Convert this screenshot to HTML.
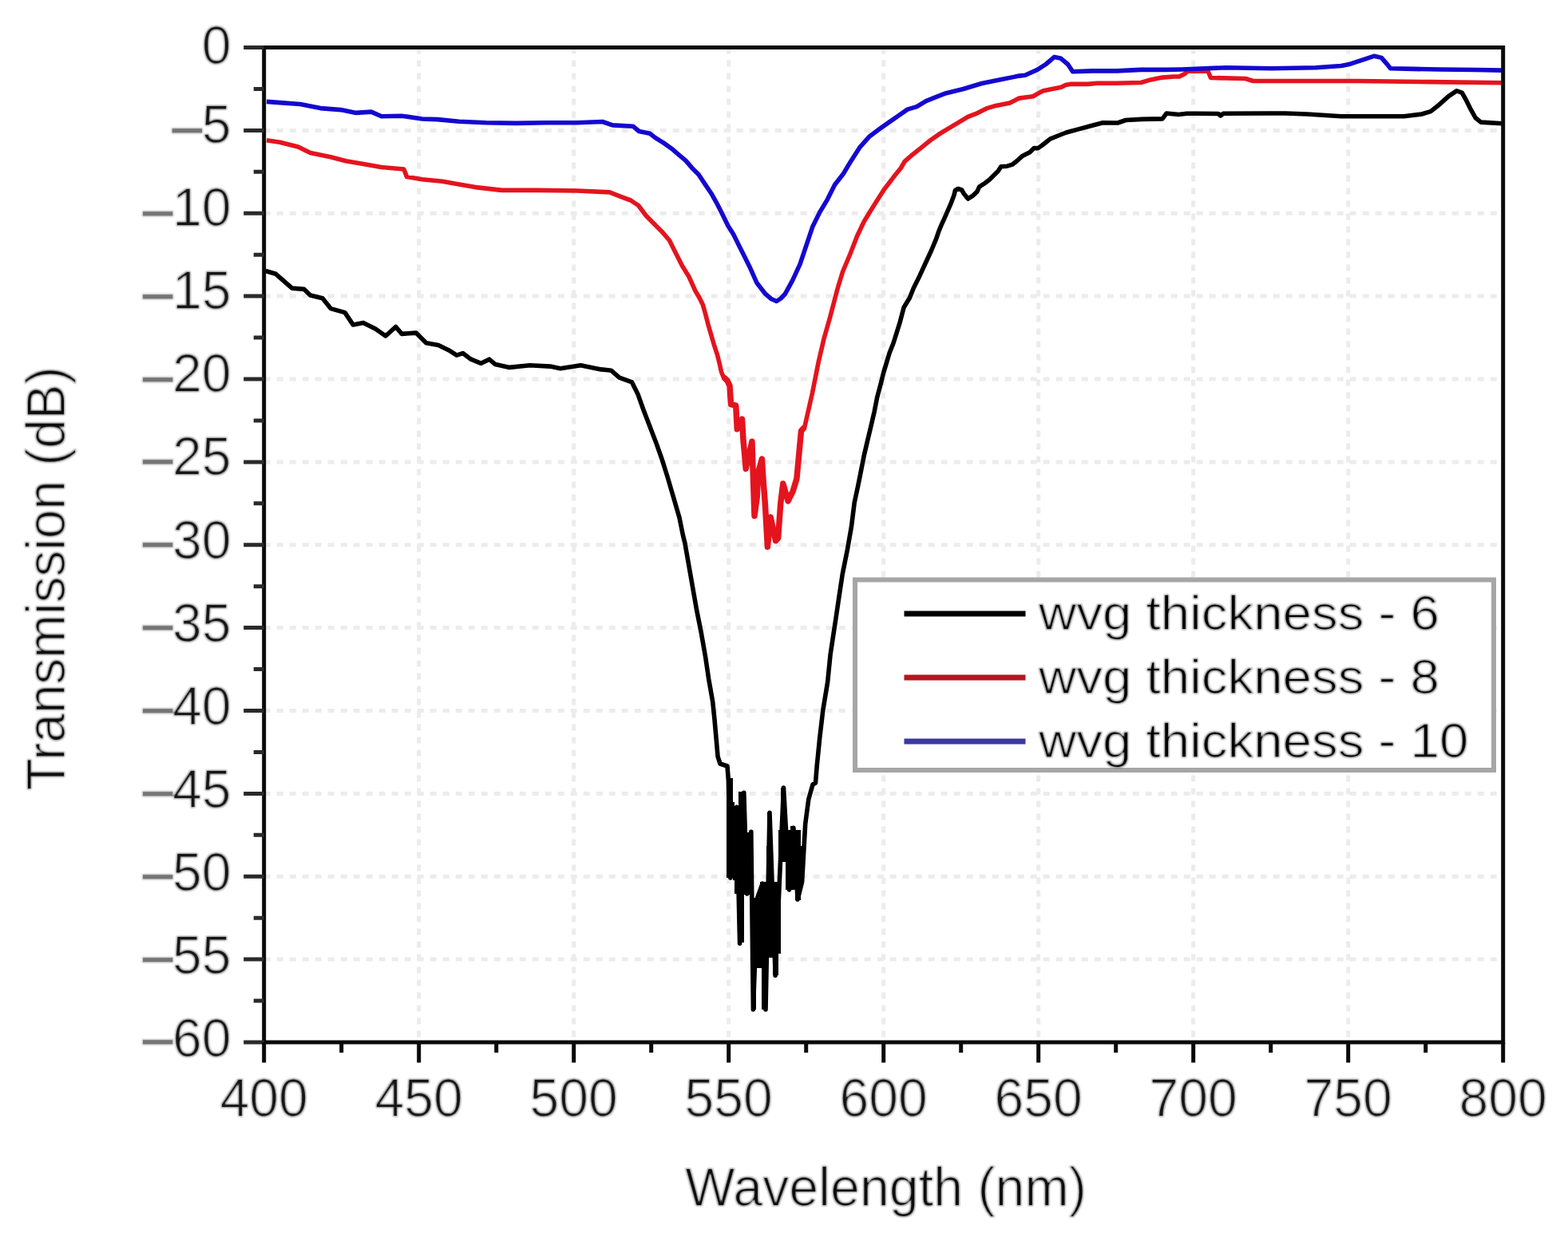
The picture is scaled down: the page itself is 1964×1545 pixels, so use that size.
<!DOCTYPE html>
<html><head><meta charset="utf-8"><title>Transmission vs Wavelength</title>
<style>html,body{margin:0;padding:0;background:#fff;}body{width:1964px;height:1545px;overflow:hidden;}svg{display:block;}</style>
</head><body>
<svg width="1964" height="1545" viewBox="0 0 1964 1545"><rect x="0" y="0" width="1964" height="1545" fill="#fff"/><defs><filter id="thin" x="-5%" y="-20%" width="110%" height="140%"><feMorphology in="SourceGraphic" operator="erode" radius="1" result="e"/><feGaussianBlur in="SourceGraphic" stdDeviation="1.3" result="b"/><feComponentTransfer in="b" result="h"><feFuncA type="linear" slope="0.55"/></feComponentTransfer><feMerge><feMergeNode in="h"/><feMergeNode in="e"/></feMerge></filter></defs><path d="M524.7,59.5 V1306.0 M718.7,59.5 V1306.0 M912.7,59.5 V1306.0 M1106.7,59.5 V1306.0 M1300.7,59.5 V1306.0 M1494.7,59.5 V1306.0 M1688.7,59.5 V1306.0 M330.7,163.4 H1882.7 M330.7,267.2 H1882.7 M330.7,371.1 H1882.7 M330.7,475.0 H1882.7 M330.7,578.9 H1882.7 M330.7,682.8 H1882.7 M330.7,786.6 H1882.7 M330.7,890.5 H1882.7 M330.7,994.4 H1882.7 M330.7,1098.2 H1882.7 M330.7,1202.1 H1882.7" stroke="#ececec" stroke-width="5" stroke-dasharray="8 8" fill="none"/><path d="M332.7,339.5 L345.5,343.3 L365.8,361.1 L381.0,362.4 L388.7,370.0 L404.0,373.8 L414.2,386.6 L432.0,391.6 L442.2,406.9 L455.0,404.4 L470.2,412.0 L483.0,421.0 L495.7,409.5 L503.3,418.4 L521.1,417.1 L533.8,429.8 L549.1,432.4 L561.9,438.7 L572.0,445.1 L579.7,442.6 L589.9,450.2 L602.6,455.3 L612.8,450.2 L620.4,456.6 L638.2,460.4 L663.7,457.8 L689.1,459.1 L701.9,461.7 L727.3,457.8 L752.8,462.9 L765.5,464.2 L775.7,473.1 L791.5,478.9 L798.9,493.8 L806.4,514.7 L813.8,534.0 L821.3,553.4 L828.7,574.2 L836.2,598.0 L843.6,623.3 L851.0,648.7 L855.5,671.0 L857.8,680.0 L862.8,708.5 L867.8,737.0 L872.8,765.4 L878.5,793.9 L883.5,822.4 L887.7,850.9 L892.7,879.3 L895.0,901.6 L899.1,948.2 L902.0,957.0 L911.0,960.0 L912.4,977.7 L915.0,1100.0 L922.7,1011.3 L926.6,1182.2 L931.8,993.2 L935.7,1120.0 L940.8,1042.4 L943.4,1265.0 L948.6,1125.2 L955.1,1107.1 L959.0,1265.0 L964.0,1018.3 L971.2,1222.3 L981.5,987.0 L988.7,1114.9 L993.9,1037.2 L999.1,1127.0 L1004.6,1105.0 L1008.7,1032.5 L1012.8,1001.4 L1018.0,983.0 L1021.5,981.0 L1023.2,960.0 L1026.7,925.0 L1030.8,890.0 L1036.6,855.0 L1040.1,820.0 L1046.4,778.7 L1050.8,748.9 L1055.3,719.1 L1061.3,689.3 L1066.5,659.6 L1070.2,629.8 L1072.3,620.0 L1074.8,608.4 L1078.5,589.9 L1082.1,571.5 L1086.4,553.0 L1090.8,534.6 L1095.1,516.1 L1098.7,497.7 L1103.0,481.7 L1106.7,466.9 L1110.4,454.6 L1114.1,442.3 L1119.0,430.0 L1127.2,403.8 L1132.1,385.3 L1139.5,373.0 L1144.4,360.7 L1151.8,345.9 L1159.1,330.0 L1166.5,314.0 L1172.7,299.2 L1175.8,290.0 L1178.9,282.4 L1182.8,273.9 L1186.7,265.0 L1191.0,255.2 L1194.9,244.8 L1196.5,238.5 L1200.0,236.5 L1204.6,238.0 L1207.2,242.5 L1212.4,249.0 L1218.8,245.1 L1224.0,239.9 L1226.6,234.1 L1233.7,229.5 L1239.5,225.0 L1244.7,219.8 L1249.9,214.7 L1253.8,208.8 L1261.6,208.2 L1268.0,206.2 L1274.5,201.0 L1281.0,195.2 L1290.0,190.7 L1295.2,185.5 L1300.0,185.8 L1305.1,182.3 L1310.2,178.2 L1315.3,174.1 L1325.5,170.0 L1335.6,166.0 L1350.9,161.9 L1366.2,157.8 L1381.5,153.7 L1400.0,154.0 L1410.2,150.5 L1430.5,149.4 L1456.0,148.9 L1458.6,145.4 L1461.1,142.0 L1476.4,143.5 L1486.6,142.3 L1500.0,142.3 L1526.0,142.5 L1529.0,145.0 L1532.0,142.3 L1590.0,142.0 L1610.0,142.0 L1636.8,143.0 L1680.0,145.8 L1758.4,145.8 L1780.8,143.0 L1792.0,139.6 L1803.2,130.7 L1814.4,120.6 L1824.5,113.9 L1831.2,116.1 L1836.8,126.2 L1842.4,137.4 L1848.0,147.5 L1854.8,153.1 L1881.6,154.7" stroke="#000" stroke-width="5.6" fill="none" stroke-linejoin="round"/><path d="M910,975 H918 V1100 H910 Z M918,1005 H920 V1103 H918 Z M920,1010 H925 V1120 H920 Z M925,992 H932 V1181 H925 Z M932,1000 H934 V1121 H932 Z M934,1043 H941 V1121 H934 Z M941,1125 H947 V1265 H941 Z M947,1125 H952 V1213 H947 Z M952,1105 H954 V1213 H952 Z M954,1105 H960 V1265 H954 Z M960,1060 H961 V1265 H960 Z M961,1018 H966 V1200 H961 Z M966,1060 H968 V1200 H966 Z M968,1105 H975 V1222 H968 Z M975,1040 H978 V1195 H975 Z M978,987 H984 V1080 H978 Z M984,1040 H990 V1115 H984 Z M990,1035 H996 V1115 H990 Z M996,1040 H1003 V1128 H996 Z M1003,1060 H1006 V1105 H1003 Z" fill="#000"/><path d="M333.9,175.7 L350.5,178.3 L373.4,184.0 L388.6,191.6 L414.1,196.7 L433.2,201.8 L452.3,205.0 L477.7,209.5 L505.8,212.0 L509.6,221.6 L528.7,224.7 L554.1,227.3 L575.0,231.1 L595.5,234.6 L628.6,238.4 L671.8,238.4 L722.7,239.0 L763.5,240.9 L780.0,247.3 L790.0,251.0 L799.7,257.5 L809.4,270.5 L819.1,280.2 L828.8,289.9 L838.5,301.2 L846.6,317.4 L854.7,333.6 L862.8,346.5 L870.9,364.3 L876.5,374.0 L880.4,382.0 L883.5,393.0 L886.8,405.9 L890.5,418.8 L894.3,431.8 L898.5,444.7 L901.7,457.7 L903.5,466.0 L906.2,472.4 L911.0,477.0 L914.0,483.3 L915.5,506.6 L921.7,508.2 L923.3,537.7 L929.5,525.2 L931.1,553.2 L932.6,568.7 L934.2,587.4 L941.9,553.2 L945.0,646.4 L948.2,623.1 L949.7,592.0 L954.4,575.0 L955.9,599.8 L958.3,630.9 L961.4,685.2 L965.2,648.0 L971.5,677.5 L974.6,674.4 L977.7,630.9 L980.8,606.0 L987.0,627.8 L993.2,615.3 L997.9,599.8 L1003.5,540.0 L1007.8,535.1 L1017.5,492.4 L1025.2,453.6 L1032.0,424.5 L1039.8,397.0 L1048.7,363.0 L1055.5,340.5 L1065.0,318.0 L1073.5,296.0 L1082.0,278.0 L1090.5,264.0 L1097.1,253.6 L1107.5,237.3 L1119.1,222.1 L1128.4,210.5 L1133.1,202.3 L1142.4,194.2 L1154.1,184.9 L1165.7,175.5 L1177.4,167.4 L1189.0,160.4 L1200.7,153.4 L1212.3,146.4 L1224.0,141.8 L1235.6,135.9 L1247.3,132.4 L1264.8,128.9 L1276.4,123.1 L1293.9,120.8 L1301.2,116.6 L1306.8,113.8 L1318.0,111.5 L1329.2,109.3 L1334.8,106.5 L1340.4,105.4 L1362.8,105.4 L1374.0,104.3 L1398.6,104.2 L1429.1,103.5 L1441.4,99.9 L1455.6,97.1 L1469.9,96.0 L1477.0,96.0 L1484.0,92.5 L1487.5,89.2 L1513.0,89.2 L1516.5,97.5 L1560.0,98.5 L1569.6,101.5 L1636.8,101.5 L1700.0,101.5 L1792.0,102.6 L1881.6,103.8" stroke="#e4141e" stroke-width="5.6" fill="none" stroke-linejoin="round"/><path d="M906.2,472.4 L911.0,477.0 L914.0,483.3 L915.5,506.6 L921.7,508.2 L923.3,537.7 L929.5,525.2 L931.1,553.2 L932.6,568.7 L934.2,587.4 L941.9,553.2 L945.0,646.4 L948.2,623.1 L949.7,592.0 L954.4,575.0 L955.9,599.8 L958.3,630.9 L961.4,685.2 L965.2,648.0 L971.5,677.5 L974.6,674.4 L977.7,630.9 L980.8,606.0 L987.0,627.8 L993.2,615.3 L997.9,599.8 L1003.5,540.0 L1007.8,535.1" stroke="#e4141e" stroke-width="7.5" fill="none" stroke-linejoin="round"/><path d="M333.9,127.4 L350.5,128.6 L375.9,130.5 L388.6,133.1 L401.4,135.6 L426.8,137.6 L445.9,141.4 L465.0,140.1 L477.7,145.8 L503.2,145.2 L528.7,149.0 L547.8,149.6 L575.0,152.2 L608.2,153.7 L646.4,154.4 L684.6,153.7 L722.7,153.7 L754.6,152.5 L767.3,156.9 L792.8,158.2 L800.4,164.5 L814.0,167.2 L820.8,172.6 L831.7,179.4 L841.2,186.2 L850.7,194.4 L858.8,201.2 L867.0,210.7 L875.1,218.8 L883.3,231.1 L891.5,243.3 L898.3,255.5 L905.1,269.1 L911.8,282.7 L918.6,293.6 L925.4,307.2 L932.2,320.8 L939.0,334.4 L947.8,354.2 L958.6,368.2 L966.0,374.5 L972.6,377.5 L978.0,374.0 L983.5,368.2 L992.8,351.1 L1002.1,330.9 L1009.9,307.6 L1017.7,284.3 L1027.0,265.6 L1036.3,250.1 L1045.6,231.5 L1056.5,217.5 L1065.8,201.9 L1076.7,184.9 L1089.1,170.9 L1101.7,161.6 L1113.3,153.4 L1125.0,145.2 L1136.6,137.1 L1148.3,133.6 L1159.9,126.6 L1171.6,121.9 L1183.2,117.3 L1206.5,111.5 L1229.8,104.5 L1253.1,99.8 L1276.4,95.1 L1284.0,94.3 L1299.3,87.4 L1310.0,80.5 L1320.7,71.4 L1328.3,72.9 L1337.5,80.5 L1343.6,89.7 L1368.0,88.9 L1398.6,88.9 L1429.1,87.4 L1459.7,87.4 L1480.0,87.0 L1536.0,84.7 L1592.0,85.8 L1648.0,84.7 L1680.0,82.5 L1691.2,80.2 L1708.0,74.6 L1721.4,70.2 L1730.4,72.4 L1738.2,81.4 L1741.6,85.8 L1769.6,86.4 L1803.2,87.0 L1848.0,87.5 L1881.6,88.1" stroke="#1408d0" stroke-width="5.6" fill="none" stroke-linejoin="round"/><rect x="330.7" y="59.5" width="1552.0" height="1246.5" fill="none" stroke="#0a0a0a" stroke-width="5"/><path d="M305.2,59.5 H330.7 M305.2,163.4 H330.7 M305.2,267.2 H330.7 M305.2,371.1 H330.7 M305.2,475.0 H330.7 M305.2,578.9 H330.7 M305.2,682.8 H330.7 M305.2,786.6 H330.7 M305.2,890.5 H330.7 M305.2,994.4 H330.7 M305.2,1098.2 H330.7 M305.2,1202.1 H330.7 M305.2,1306.0 H330.7 M317.7,111.4 H330.7 M317.7,215.3 H330.7 M317.7,319.2 H330.7 M317.7,423.1 H330.7 M317.7,526.9 H330.7 M317.7,630.8 H330.7 M317.7,734.7 H330.7 M317.7,838.6 H330.7 M317.7,942.4 H330.7 M317.7,1046.3 H330.7 M317.7,1150.2 H330.7 M317.7,1254.1 H330.7" stroke="#2a2a2a" stroke-width="5" fill="none"/><path d="M330.7,1306.0 V1331.5 M524.7,1306.0 V1331.5 M718.7,1306.0 V1331.5 M912.7,1306.0 V1331.5 M1106.7,1306.0 V1331.5 M1300.7,1306.0 V1331.5 M1494.7,1306.0 V1331.5 M1688.7,1306.0 V1331.5 M1882.7,1306.0 V1331.5 M427.7,1306.0 V1319.0 M621.7,1306.0 V1319.0 M815.7,1306.0 V1319.0 M1009.7,1306.0 V1319.0 M1203.7,1306.0 V1319.0 M1397.7,1306.0 V1319.0 M1591.7,1306.0 V1319.0 M1785.7,1306.0 V1319.0" stroke="#0a0a0a" stroke-width="5" fill="none"/><g font-family="Liberation Sans, Arial, sans-serif" font-size="68.5" fill="#161616" filter="url(#thin)"><text transform="translate(289.5,79.5) scale(0.965,1)" text-anchor="end">0</text><text transform="translate(289.5,179.2) scale(0.965,1)" text-anchor="end"><tspan dy="1.63" fill="#767676" stroke="#767676" stroke-width="2.4">–</tspan><tspan dy="-1.63">5</tspan></text><text transform="translate(289.5,283.3) scale(0.965,1)" text-anchor="end"><tspan dy="1.46" fill="#767676" stroke="#767676" stroke-width="2.4">–</tspan><tspan dy="-1.46">10</tspan></text><text transform="translate(289.5,387.3) scale(0.965,1)" text-anchor="end"><tspan dy="1.29" fill="#767676" stroke="#767676" stroke-width="2.4">–</tspan><tspan dy="-1.29">15</tspan></text><text transform="translate(289.5,491.4) scale(0.965,1)" text-anchor="end"><tspan dy="1.12" fill="#767676" stroke="#767676" stroke-width="2.4">–</tspan><tspan dy="-1.12">20</tspan></text><text transform="translate(289.5,595.4) scale(0.965,1)" text-anchor="end"><tspan dy="0.95" fill="#767676" stroke="#767676" stroke-width="2.4">–</tspan><tspan dy="-0.95">25</tspan></text><text transform="translate(289.5,699.5) scale(0.965,1)" text-anchor="end"><tspan dy="0.78" fill="#767676" stroke="#767676" stroke-width="2.4">–</tspan><tspan dy="-0.78">30</tspan></text><text transform="translate(289.5,803.5) scale(0.965,1)" text-anchor="end"><tspan dy="0.61" fill="#767676" stroke="#767676" stroke-width="2.4">–</tspan><tspan dy="-0.61">35</tspan></text><text transform="translate(289.5,907.6) scale(0.965,1)" text-anchor="end"><tspan dy="0.44" fill="#767676" stroke="#767676" stroke-width="2.4">–</tspan><tspan dy="-0.44">40</tspan></text><text transform="translate(289.5,1011.6) scale(0.965,1)" text-anchor="end"><tspan dy="0.27" fill="#767676" stroke="#767676" stroke-width="2.4">–</tspan><tspan dy="-0.27">45</tspan></text><text transform="translate(289.5,1115.7) scale(0.965,1)" text-anchor="end"><tspan dy="0.10" fill="#767676" stroke="#767676" stroke-width="2.4">–</tspan><tspan dy="-0.10">50</tspan></text><text transform="translate(289.5,1219.7) scale(0.965,1)" text-anchor="end"><tspan dy="-0.07" fill="#767676" stroke="#767676" stroke-width="2.4">–</tspan><tspan dy="0.07">55</tspan></text><text transform="translate(289.5,1323.7) scale(0.965,1)" text-anchor="end"><tspan dy="-0.24" fill="#767676" stroke="#767676" stroke-width="2.4">–</tspan><tspan dy="0.24">60</tspan></text><text transform="translate(330.7,1398.5) scale(0.965,1)" text-anchor="middle">400</text><text transform="translate(524.7,1398.5) scale(0.965,1)" text-anchor="middle">450</text><text transform="translate(718.7,1398.5) scale(0.965,1)" text-anchor="middle">500</text><text transform="translate(912.7,1398.5) scale(0.965,1)" text-anchor="middle">550</text><text transform="translate(1106.7,1398.5) scale(0.965,1)" text-anchor="middle">600</text><text transform="translate(1300.7,1398.5) scale(0.965,1)" text-anchor="middle">650</text><text transform="translate(1494.7,1398.5) scale(0.965,1)" text-anchor="middle">700</text><text transform="translate(1688.7,1398.5) scale(0.965,1)" text-anchor="middle">750</text><text transform="translate(1882.7,1398.5) scale(0.965,1)" text-anchor="middle">800</text></g><g font-family="Liberation Sans, Arial, sans-serif" font-size="69" fill="#111" filter="url(#thin)"><text transform="translate(1109.5,1511) scale(0.962,1)" text-anchor="middle">Wavelength (nm)</text><text transform="translate(81,725) rotate(-90) scale(0.953,1)" text-anchor="middle">Transmission (dB)</text></g><rect x="1071" y="726.5" width="800" height="238.5" fill="#fff" stroke="#a6a6a6" stroke-width="6"/><path d="M1132.5,769 H1284.5" stroke="#000" stroke-width="7"/><path d="M1132.5,849 H1284.5" stroke="#b8141e" stroke-width="7"/><path d="M1132.5,929 H1284.5" stroke="#3c38a2" stroke-width="7"/><g font-family="Liberation Sans, Arial, sans-serif" font-size="67" fill="#050505" filter="url(#thin)"><text transform="translate(1301,789.3) scale(0.977,0.925)">wvg thickness - 6</text><text transform="translate(1301,868.6) scale(0.977,0.925)">wvg thickness - 8</text><text transform="translate(1301,949) scale(0.977,0.925)">wvg thickness - 10</text></g></svg>
</body></html>
